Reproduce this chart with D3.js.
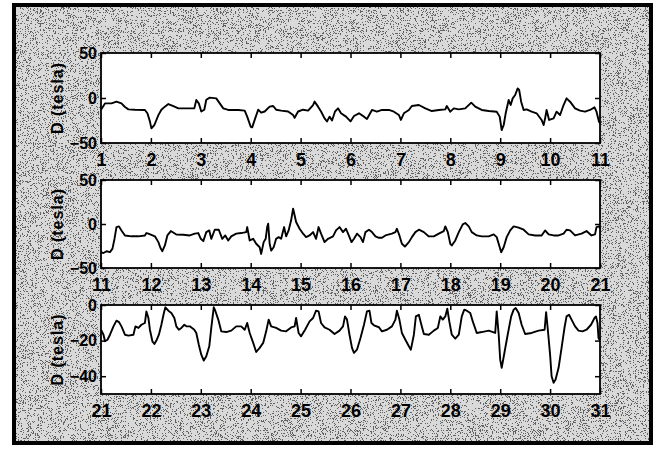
<!DOCTYPE html>
<html>
<head>
<meta charset="utf-8">
<script src="https://cdn.jsdelivr.net/npm/d3@7"></script>
<style>
  body { margin: 0; background: #fff; }
  svg { display: block; }
  text { font-family: "Liberation Sans", Arial, sans-serif; font-weight: bold; fill: #000; }
</style>
</head>
<body>
<div id="chart"></div>
<script>
// D (tesla) per day: [day, value]
const days1 = [[1.00,-13],[1.08,-6],[1.21,-6],[1.31,-4],[1.41,-6],[1.48,-10],[1.55,-12.6],[1.68,-13],[1.88,-13.3],[1.93,-17],[1.98,-26],[2.01,-33.7],[2.07,-30],[2.15,-19],[2.21,-13],[2.28,-9.6],[2.35,-6.7],[2.45,-9],[2.55,-11.5],[2.75,-11.5],[2.87,-11.5],[2.91,-2.2],[2.96,-6],[3.01,-15],[3.07,-13],[3.11,-2],[3.18,0.4],[3.31,-0.4],[3.38,-6],[3.45,-11.5],[3.55,-13.3],[3.75,-13.3],[3.88,-14],[3.93,-20.7],[4.00,-32],[4.03,-32.6],[4.09,-22.6],[4.15,-13],[4.21,-16.3],[4.28,-15],[4.38,-9.6],[4.45,-8.9],[4.51,-13],[4.61,-14],[4.75,-15],[4.85,-19],[4.88,-22],[4.95,-15],[5.05,-13],[5.15,-14],[5.25,-7.8],[5.28,-4],[5.35,-9.6],[5.41,-15],[5.48,-22.6],[5.53,-26],[5.58,-20.7],[5.63,-25],[5.69,-15],[5.75,-11.5],[5.81,-17],[5.91,-20.7],[6.00,-26],[6.07,-20],[6.17,-17],[6.27,-20.7],[6.33,-23.3],[6.43,-13.3],[6.53,-15.2],[6.63,-13.3],[6.77,-13.3],[6.87,-15.2],[6.97,-18.9],[7.01,-24.4],[7.07,-17],[7.17,-13.3],[7.23,-8.9],[7.37,-7.8],[7.5,-11.5],[7.63,-14.5],[7.77,-13.3],[7.9,-12.6],[7.93,-8.9],[8.0,-15.2],[8.07,-11.5],[8.17,-12.6],[8.3,-11.5],[8.42,-5.2],[8.5,-9.6],[8.63,-13.3],[8.77,-14.5],[8.93,-15.2],[8.99,-20.7],[9.03,-35.6],[9.07,-30],[9.11,-17],[9.17,-2.2],[9.21,-7.8],[9.25,-0.4],[9.3,3.3],[9.35,10.7],[9.38,8.9],[9.42,-4.1],[9.47,-13.3],[9.53,-12.6],[9.63,-15.2],[9.73,-17],[9.83,-24.4],[9.87,-30],[9.9,-22.6],[9.93,-13.3],[9.98,-24.4],[10.07,-22.6],[10.13,-15.2],[10.2,-18.9],[10.27,-7.8],[10.33,-0.4],[10.4,-4.1],[10.5,-11.5],[10.6,-14],[10.7,-15.2],[10.8,-13.3],[10.89,-10.4],[10.93,-15.2],[10.98,-26.3],[11.0,-28]];

const days2 = [[11.0,-32],[11.05,-33],[11.11,-31],[11.18,-32],[11.23,-28],[11.27,-17],[11.31,-3.5],[11.36,-2.7],[11.41,-7.3],[11.48,-13],[11.61,-14],[11.75,-14],[11.88,-13],[11.91,-10.3],[11.95,-11],[12.08,-14],[12.15,-20.6],[12.19,-27],[12.23,-30.9],[12.28,-24.4],[12.33,-13],[12.4,-8],[12.51,-12],[12.65,-12.2],[12.78,-13],[12.88,-11],[12.95,-10.3],[13.0,-16.8],[13.05,-19.5],[13.11,-9.2],[13.17,-7.3],[13.21,-16.8],[13.28,-6.5],[13.36,-6.5],[13.43,-16.8],[13.49,-13],[13.55,-18.7],[13.61,-14],[13.71,-11],[13.81,-10.3],[13.91,-9.2],[13.93,-3.5],[13.98,-18.7],[14.05,-16.8],[14.11,-22.5],[14.18,-26.4],[14.21,-34],[14.26,-20.6],[14.3,-16.8],[14.33,-3.5],[14.35,0.4],[14.38,-22.5],[14.41,-30.2],[14.46,-26.4],[14.51,-16.8],[14.56,-14.9],[14.61,-16.8],[14.67,-3.5],[14.71,-14.1],[14.76,-7.3],[14.81,4.2],[14.85,17.5],[14.88,9.9],[14.91,2.3],[14.98,-5.4],[15.05,-11],[15.11,-14.9],[15.18,-13],[15.25,-9.2],[15.31,-16.8],[15.36,-3.5],[15.41,-11],[15.48,-20.6],[15.55,-16.8],[15.65,-14.1],[15.71,-7.3],[15.78,-3.5],[15.85,-9.2],[15.91,-5.4],[15.98,-14.9],[16.02,-20.6],[16.07,-16.8],[16.13,-11],[16.2,-14.9],[16.25,-20.6],[16.3,-9.2],[16.37,-6.5],[16.43,-9.2],[16.5,-14.1],[16.57,-15.7],[16.63,-15.7],[16.7,-13],[16.83,-11],[16.9,-9.2],[16.93,-5.4],[16.98,-13],[17.03,-22.5],[17.09,-25.6],[17.17,-20.6],[17.23,-14.9],[17.3,-9.2],[17.37,-6.5],[17.47,-9.2],[17.57,-14.1],[17.67,-14.1],[17.77,-11],[17.87,-8],[17.9,-2.7],[17.95,-9.2],[18.0,-22.5],[18.03,-24.4],[18.1,-18.7],[18.17,-9.2],[18.25,-0.4],[18.3,1.1],[18.37,-2.7],[18.43,-9.2],[18.53,-13],[18.63,-14.1],[18.77,-14.1],[18.87,-11.8],[18.93,-14.9],[18.98,-24.4],[19.02,-32.1],[19.07,-26.4],[19.13,-14.9],[19.2,-7.3],[19.27,-2.7],[19.37,-4.2],[19.47,-6.5],[19.57,-11.8],[19.7,-13],[19.83,-13],[19.9,-7.3],[19.97,-11.8],[20.07,-13],[20.17,-13],[20.27,-11],[20.33,-6.5],[20.4,-7.3],[20.5,-13],[20.63,-11],[20.73,-8],[20.83,-13],[20.9,-11.8],[20.93,-3.5],[20.98,-2.7],[21.0,-5]];

const days3 = [[21.0,-13.9],[21.05,-16.7],[21.08,-20.4],[21.13,-19.5],[21.18,-16.7],[21.25,-12],[21.31,-8.8],[21.36,-9.6],[21.41,-12],[21.48,-16.7],[21.55,-17.2],[21.65,-16.7],[21.69,-12],[21.75,-12.9],[21.81,-11.1],[21.88,-10.1],[21.91,-3.6],[21.95,-7.3],[21.98,-13.9],[22.03,-20.4],[22.07,-21.9],[22.11,-20],[22.16,-16.7],[22.21,-11.1],[22.26,-4.5],[22.29,-1.3],[22.35,-3.2],[22.41,-4.5],[22.47,-7.3],[22.51,-12],[22.56,-13.9],[22.61,-12.9],[22.67,-11.1],[22.71,-12],[22.78,-12],[22.87,-13.9],[22.91,-15.7],[22.96,-22.3],[23.01,-27.9],[23.06,-31.2],[23.11,-28.8],[23.17,-23.2],[23.21,-12.9],[23.26,-1.3],[23.29,-3.2],[23.35,-8.2],[23.41,-14.8],[23.51,-15.2],[23.61,-14.4],[23.71,-12],[23.81,-12],[23.88,-13.9],[23.93,-10.1],[23.98,-15.7],[24.05,-21.3],[24.11,-26.4],[24.18,-24.1],[24.25,-21.3],[24.31,-14.8],[24.36,-8.2],[24.41,-12],[24.51,-12.9],[24.61,-14.4],[24.71,-14.8],[24.81,-12.6],[24.88,-12],[24.91,-7.3],[24.96,-15.7],[25.01,-17.6],[25.09,-13.9],[25.18,-9.2],[25.25,-7.3],[25.31,-3.2],[25.36,-3.6],[25.41,-10.1],[25.48,-12.6],[25.58,-13.9],[25.68,-16.3],[25.78,-14.4],[25.85,-12],[25.89,-6.4],[25.93,-8.2],[25.98,-16.7],[26.03,-24.1],[26.07,-26.9],[26.13,-25.1],[26.2,-18.5],[26.27,-11.1],[26.33,-3.6],[26.38,-3.2],[26.42,-10.1],[26.47,-11.4],[26.57,-12.5],[26.63,-14.8],[26.73,-13.9],[26.83,-12],[26.9,-8.2],[26.93,-3.2],[26.98,-8.2],[27.03,-15.7],[27.1,-19.5],[27.17,-23.2],[27.21,-25.1],[27.27,-16.7],[27.31,-6.4],[27.37,-5.5],[27.42,-11.1],[27.47,-16.3],[27.57,-16.7],[27.67,-14.4],[27.75,-12.9],[27.8,-6.4],[27.85,-8.2],[27.9,-6.4],[27.94,-2.1],[27.98,-9.2],[28.03,-16.7],[28.1,-18.9],[28.17,-16.7],[28.23,-6.4],[28.28,-2.6],[28.33,-3.2],[28.4,-4.5],[28.45,-9.2],[28.53,-15.7],[28.63,-15.2],[28.77,-14.4],[28.9,-15.7],[28.93,-3.6],[28.97,-16.7],[29.0,-30.7],[29.03,-35.3],[29.09,-26],[29.15,-16.7],[29.22,-6.4],[29.27,-2.6],[29.31,-1.7],[29.37,-4.5],[29.43,-11.1],[29.5,-16.3],[29.63,-15.7],[29.77,-14.4],[29.89,-13.9],[29.92,-4],[29.95,-12.5],[30.0,-27.9],[30.03,-40],[30.07,-43.7],[30.11,-41.9],[30.17,-35.3],[30.23,-24.1],[30.29,-12.5],[30.33,-6.4],[30.38,-5.5],[30.43,-8.2],[30.5,-12],[30.57,-14.4],[30.65,-14.8],[30.73,-13.9],[30.82,-11.1],[30.89,-7.3],[30.92,-6.4],[30.95,-10.1],[30.97,-18.5],[31.0,-20]];

// tick values
const xTicks1 = [1,2,3,4,5,6,7,8,9,10,11];
const xTicks2 = [11,12,13,14,15,16,17,18,19,20,21];
const xTicks3 = [21,22,23,24,25,26,27,28,29,30,31];
const yTicksWide = [-50,0,50];
const yTicksLow = [-40,-20,0];
const yTitle = "D (tesla)";

const W = 659, H = 453;
const left = 101, right = 600;

const panels = [
  {data: days1, xt: xTicks1, yt: yTicksWide, ydom: [-50, 50], top: 53, bottom: 143},
  {data: days2, xt: xTicks2, yt: yTicksWide, ydom: [-50, 50], top: 180, bottom: 268},
  {data: days3, xt: xTicks3, yt: yTicksLow, ydom: [-50, 0], top: 305, bottom: 394}
];

const svg = d3.select('#chart').append('svg')
    .attr('width', W)
    .attr('height', H);

// scanned-page speckle behind the panels
const defs = svg.append('defs');
const f = defs.append('filter').attr('id', 'speckle')
    .attr('x', 0).attr('y', 0).attr('width', '100%').attr('height', '100%');
f.append('feTurbulence').attr('type', 'fractalNoise')
    .attr('baseFrequency', 1.4).attr('numOctaves', 1).attr('seed', 4);
f.append('feColorMatrix').attr('type', 'matrix')
    .attr('values', '0 0 0 0 0  0 0 0 0 0  0 0 0 0 0  1 0 0 0 0');
f.append('feComponentTransfer').append('feFuncA').attr('type', 'discrete')
    .attr('tableValues', '0 0 0 0 0 0 0 0 0 0 0 0 0.55 0.55 0.55 0.55 0.55 0.55 0.55 0.55');

svg.append('rect').attr('x', 14).attr('y', 5).attr('width', 637).attr('height', 438).attr('fill', '#d9d9d9');
svg.append('rect').attr('x', 14).attr('y', 5).attr('width', 637).attr('height', 438)
    .attr('fill', '#fff').attr('filter', 'url(#speckle)');
svg.append('rect').attr('x', 14).attr('y', 5).attr('width', 637).attr('height', 438)
    .attr('fill', 'none').attr('stroke', '#000').attr('stroke-width', 4);

panels.forEach((p, i) => {
  const x = d3.scaleLinear().domain([p.xt[0], p.xt[p.xt.length - 1]]).range([left, right]);
  const y = d3.scaleLinear().domain(p.ydom).range([p.bottom, p.top]);

  const g = svg.append('g').attr('class', 'panel' + i);

  g.append('rect')
      .attr('x', left).attr('y', p.top)
      .attr('width', right - left).attr('height', p.bottom - p.top)
      .attr('fill', '#fff');

  defs.append('clipPath').attr('id', 'clip' + i)
    .append('rect')
      .attr('x', left).attr('y', p.top)
      .attr('width', right - left).attr('height', p.bottom - p.top);

  const line = d3.line()
      .x(d => x(d[0]))
      .y(d => y(d[1]));

  g.append('path')
      .datum(p.data)
      .attr('clip-path', `url(#clip${i})`)
      .attr('fill', 'none')
      .attr('stroke', '#000')
      .attr('stroke-width', 1.9)
      .attr('stroke-linejoin', 'round')
      .attr('d', line);

  // ticks on all four sides, pointing in
  const xb = g.append('g').attr('transform', `translate(0,${p.bottom})`)
      .call(d3.axisBottom(x).tickValues(p.xt).tickSize(-5).tickSizeOuter(0).tickPadding(10).tickFormat(d3.format('d')));
  g.append('g').attr('transform', `translate(0,${p.top})`)
      .call(d3.axisTop(x).tickValues(p.xt).tickSize(-5).tickSizeOuter(0).tickFormat(''));
  const yl = g.append('g').attr('transform', `translate(${left},0)`)
      .call(d3.axisLeft(y).tickValues(p.yt).tickSize(-5).tickSizeOuter(0).tickPadding(4).tickFormat(d3.format('d')));
  g.append('g').attr('transform', `translate(${right},0)`)
      .call(d3.axisRight(y).tickValues(p.yt).tickSize(-5).tickSizeOuter(0).tickFormat(''));

  g.selectAll('.domain').remove();
  g.selectAll('.tick line').attr('stroke', '#000').attr('stroke-width', 1.5);
  xb.selectAll('text').attr('font-size', 18).attr('font-family', null);
  yl.selectAll('text').attr('font-size', 16).attr('font-family', null);

  g.append('rect')
      .attr('x', left).attr('y', p.top)
      .attr('width', right - left).attr('height', p.bottom - p.top)
      .attr('fill', 'none').attr('stroke', '#000').attr('stroke-width', 1.8);

  g.append('text')
      .attr('transform', `translate(63,${(p.top + p.bottom) / 2}) rotate(-90)`)
      .attr('text-anchor', 'middle')
      .attr('font-size', 16)
      .attr('letter-spacing', 1)
      .text(yTitle);
});
</script>
</body>
</html>
